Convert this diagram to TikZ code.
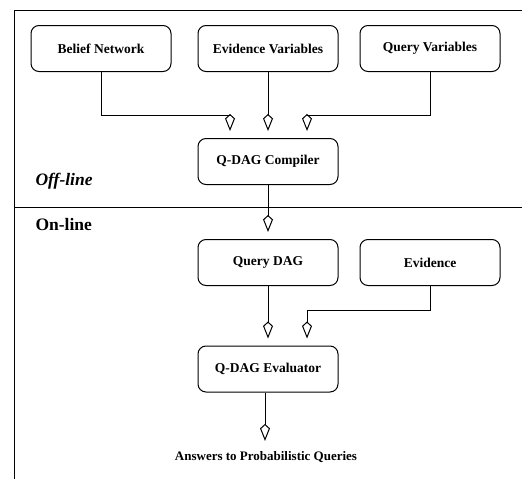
\documentclass[tikz,border=0pt]{standalone}
\usepackage{fontspec}
\setmainfont{Liberation Serif}
\usetikzlibrary{arrows.meta}

\begin{document}
\begin{tikzpicture}[x=1pt,y=-1pt,
    box/.style={draw,line width=1pt,rounded corners=8pt,minimum width=140pt,minimum height=46pt,font=\fontsize{13.5}{16}\selectfont\bfseries},
    flow/.style={line width=1pt,-{Kite[open,length=17pt,width=10pt,inset=4.5pt]},shorten >=7pt},
    zone/.style={anchor=west,font=\fontsize{17.5}{20}\selectfont\bfseries}]
        \useasboundingbox (0,0) rectangle (522,479);

        % frame
        \draw[line width=1pt] (522,10) -- (14,10) -- (14,479);
        \draw[line width=1pt] (14,207) -- (522,207);
        \node[zone,font=\fontsize{17.5}{20}\selectfont\bfseries\itshape] (off) at (32,181) {Off-line};
        \node[zone] (on) at (32,225) {On-line};

        \node[box] (bn) at (101,48.5) {Belief Network};
        \node[box] (ev) at (268,48.5) {Evidence Variables};
        \node[box] (qv) at (430,48.5) {Query Variables};
        \node[box] (comp) at (268,161.5) {Q-DAG Compiler};
        \node[box] (qdag) at (268,262.5) {Query DAG};
        \node[box] (evid) at (430,262.5) {Evidence};
        \node[box] (eval) at (268,369) {Q-DAG Evaluator};
        \node[font=\fontsize{13}{15}\selectfont\bfseries] (ans) at (266,457) {Answers to Probabilistic Queries};

        \coordinate (bj) at (101,115);
        \coordinate (qj) at (430,115);
        \coordinate (ej) at (430,310);

        \draw[flow] (bn.south) -- (bj) -| ([xshift=-38pt]comp.north);
        \draw[flow] (ev.south) -- (comp.north);
        \draw[flow] (qv.south) -- (qj) -| ([xshift=39pt]comp.north);
        \draw[flow] (comp.south) -- (qdag.north);
        \draw[flow] (qdag.south) -- (eval.north);
        \draw[flow] (evid.south) -- (ej) -| ([xshift=39pt]eval.north);
        \draw[flow] ([xshift=-3pt]eval.south) -- ([xshift=-1pt]ans.north);
    \end{tikzpicture}
\end{document}
